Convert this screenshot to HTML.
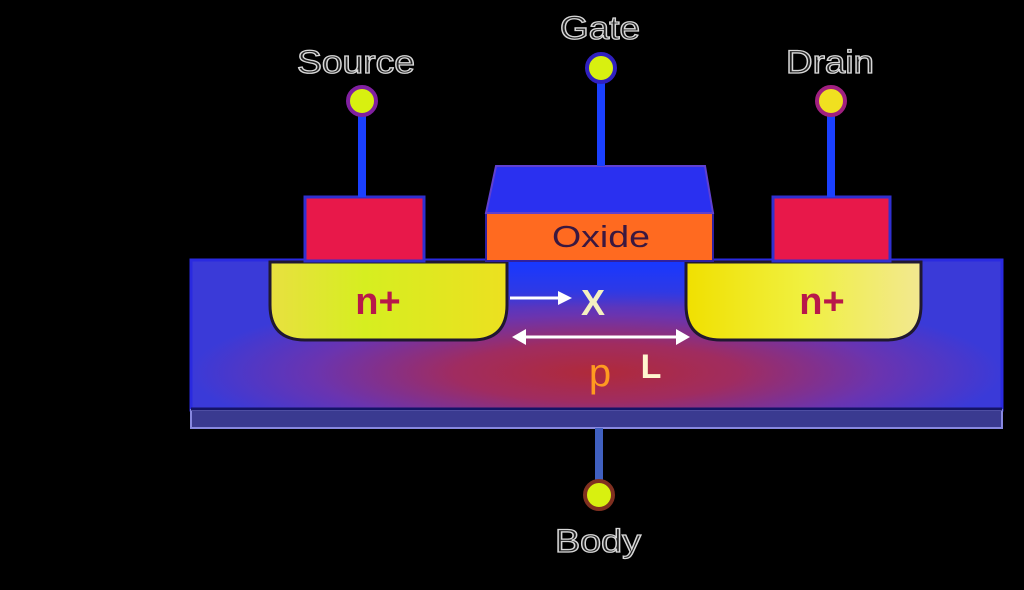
<!DOCTYPE html>
<html><head><meta charset="utf-8"><style>
html,body{margin:0;padding:0;background:#000;width:1024px;height:590px;overflow:hidden}
svg{display:block}
.lbl{font-family:"Liberation Sans",sans-serif;font-size:32px;fill:#222;stroke:#d8d8d8;stroke-width:1.3px}
</style></head><body>
<svg width="1024" height="590" viewBox="0 0 1024 590" xmlns="http://www.w3.org/2000/svg">
<defs>
<radialGradient id="sub" cx="0.5" cy="0.75" r="0.5" gradientTransform="translate(0.5 0.75) scale(1 1.1) translate(-0.5 -0.75)">
<stop offset="0" stop-color="#b02a3a"/>
<stop offset="0.35" stop-color="#a02c60"/>
<stop offset="0.7" stop-color="#6a34b0"/>
<stop offset="1" stop-color="#3a3ad8"/>
</radialGradient>
<linearGradient id="top" x1="0" y1="0" x2="0" y2="1">
<stop offset="0" stop-color="#1838ff"/><stop offset="1" stop-color="#1838ff" stop-opacity="0"/>
</linearGradient>
<linearGradient id="nl" x1="0" y1="0" x2="1" y2="0">
<stop offset="0" stop-color="#e8e040"/><stop offset="0.4" stop-color="#d6ee20"/><stop offset="1" stop-color="#ece020"/>
</linearGradient>
<linearGradient id="nr" x1="0" y1="0" x2="1" y2="0">
<stop offset="0" stop-color="#f0e000"/><stop offset="0.5" stop-color="#f0f040"/><stop offset="1" stop-color="#f2e890"/>
</linearGradient>
</defs>
<rect x="191" y="260" width="811" height="150" fill="url(#sub)" stroke="#2a2ae0" stroke-width="3"/>
<rect x="505" y="262" width="182" height="45" fill="url(#top)"/>
<rect x="191" y="410" width="811" height="18" fill="#3a3a90" stroke="#8888e0" stroke-width="2"/>
<line x1="191" y1="409" x2="1002" y2="409" stroke="#141466" stroke-width="3"/>
<path d="M270 262 H507 V305 Q507 340 472 340 H305 Q270 340 270 305 Z" fill="url(#nl)" stroke="#201830" stroke-width="3"/>
<path d="M686 262 H921 V305 Q921 340 886 340 H721 Q686 340 686 305 Z" fill="url(#nr)" stroke="#201830" stroke-width="3"/>
<rect x="305" y="197" width="119" height="64" fill="#e8184a" stroke="#3030d0" stroke-width="3"/>
<rect x="773" y="197" width="117" height="64" fill="#e8184a" stroke="#3030d0" stroke-width="3"/>
<rect x="486" y="213" width="227" height="48" fill="#ff6a20" stroke="#3020a0" stroke-width="2"/>
<path d="M486 213 L496 166 H705 L713 213 Z" fill="#2a30f0" stroke="#6040d0" stroke-width="2"/>
<text x="601" y="247" font-family="Liberation Sans,sans-serif" font-size="31" fill="#3a1840" text-anchor="middle" textLength="98" lengthAdjust="spacingAndGlyphs">Oxide</text>
<line x1="362" y1="112" x2="362" y2="197" stroke="#1a40ff" stroke-width="8"/>
<line x1="601" y1="80" x2="601" y2="166" stroke="#1a40ff" stroke-width="8"/>
<line x1="831" y1="112" x2="831" y2="197" stroke="#1a40ff" stroke-width="8"/>
<line x1="599" y1="428" x2="599" y2="484" stroke="#4060c0" stroke-width="8"/>
<g stroke-width="4">
<circle cx="362" cy="101" r="14" fill="#d8f010" stroke="#8020a0"/>
<circle cx="601" cy="68" r="14" fill="#d8f010" stroke="#3020c0"/>
<circle cx="831" cy="101" r="14" fill="#f0e020" stroke="#a02080"/>
<circle cx="599" cy="495" r="14" fill="#d8f010" stroke="#803020"/>
</g>
<text class="lbl" x="356" y="73" text-anchor="middle" textLength="118" lengthAdjust="spacingAndGlyphs">Source</text>
<text class="lbl" x="600" y="39" text-anchor="middle" textLength="80" lengthAdjust="spacingAndGlyphs">Gate</text>
<text class="lbl" x="830" y="73" text-anchor="middle" textLength="88" lengthAdjust="spacingAndGlyphs">Drain</text>
<text class="lbl" x="598" y="552" text-anchor="middle" textLength="86" lengthAdjust="spacingAndGlyphs">Body</text>
<text x="378" y="314" font-family="Liberation Sans,sans-serif" font-weight="bold" font-size="38" fill="#b8184a" text-anchor="middle">n+</text>
<text x="822" y="314" font-family="Liberation Sans,sans-serif" font-weight="bold" font-size="38" fill="#b8184a" text-anchor="middle">n+</text>
<g fill="#fff" stroke="#fff">
<line x1="510" y1="298" x2="560" y2="298" stroke-width="3"/>
<path d="M572 298 L558 291 L558 305 Z" stroke="none"/>
<line x1="522" y1="337" x2="680" y2="337" stroke-width="3"/>
<path d="M512 337 L526 329 L526 345 Z" stroke="none"/>
<path d="M690 337 L676 329 L676 345 Z" stroke="none"/>
</g>
<text x="593" y="315" font-family="Liberation Sans,sans-serif" font-weight="bold" font-size="36" fill="#f4f0c0" text-anchor="middle">X</text>
<text x="651" y="378" font-family="Liberation Sans,sans-serif" font-weight="bold" font-size="34" fill="#fff6d0" text-anchor="middle">L</text>
<text x="600" y="386" font-family="Liberation Sans,sans-serif" font-size="40" fill="#ff9a20" text-anchor="middle">p</text>
</svg>
</body></html>
